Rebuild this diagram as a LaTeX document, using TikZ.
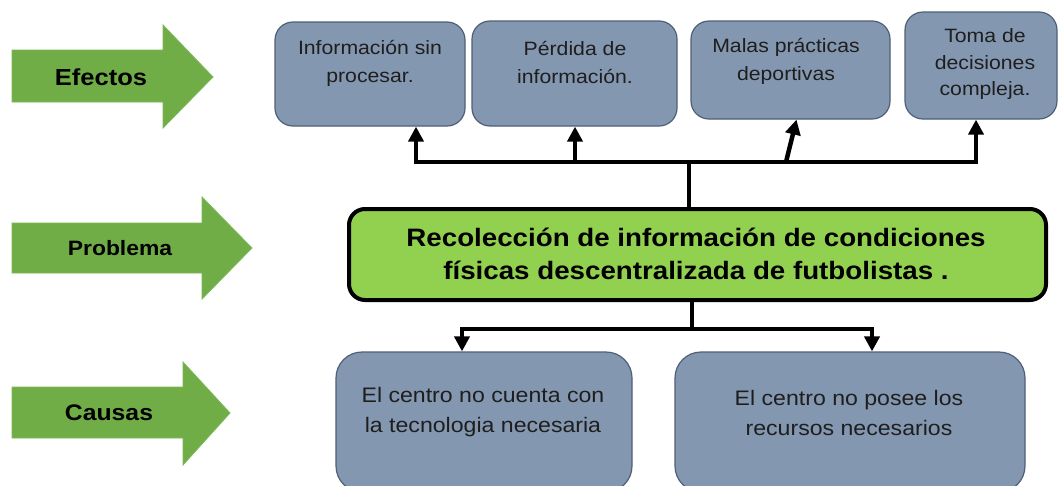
\documentclass[tikz,border=0pt]{standalone}
\usepackage{fontspec}
\setmainfont{Liberation Sans}[FakeStretch=1.1]
\usetikzlibrary{arrows.meta}
\definecolor{boxfill}{HTML}{8497B0}
\definecolor{boxedge}{HTML}{4F5F75}
\definecolor{probfill}{HTML}{92D050}
\definecolor{garrow}{HTML}{70AD47}
\definecolor{garrowedge}{HTML}{7DB857}
\definecolor{textdark}{HTML}{1E1E1E}
\begin{document}
\begin{tikzpicture}[x=1pt,y=-1pt,
  ebox/.style={draw=boxedge, line width=1.2pt, fill=boxfill, rounded corners=18pt, inner sep=0pt},
  cbox/.style={draw=boxedge, line width=1.2pt, fill=boxfill, rounded corners=26pt, inner sep=0pt},
  etext/.style={align=center, text=textdark, inner sep=0pt, font=\fontsize{19.3}{28}\selectfont},
  ctext/.style={align=center, text=textdark, inner sep=0pt, font=\fontsize{21}{30}\selectfont},
  probbox/.style={draw=black, line width=4pt, fill=probfill, rounded corners=16pt, inner sep=0pt},
  probtext/.style={align=center, text=black, inner sep=0pt, font=\fontsize{25.2}{33}\selectfont\bfseries},
  bigarrow/.style={fill=garrow, draw=garrowedge, line width=0.8pt},
  armlabel/.style={text=black, inner sep=0pt, font=\bfseries},
  link/.style={line width=4.5pt, line cap=rect},
  arr/.style={line width=4.5pt, -{Triangle[width=15pt,length=15pt]}}
]
\useasboundingbox (0,0) rectangle (1059,485);
\clip (0,0) rectangle (1059,485);
\fill[white] (0,0) rectangle (1059,485);

% left block arrows
\draw[bigarrow] (12,50) -- (163,50) -- (163,25) -- (213,77) -- (163,128) -- (163,102) -- (12,102) -- cycle;
\draw[bigarrow] (12,223) -- (202,223) -- (202,197) -- (252,248) -- (202,299) -- (202,273) -- (12,273) -- cycle;
\draw[bigarrow] (12,387) -- (183,387) -- (183,362) -- (230,413) -- (183,465) -- (183,438) -- (12,438) -- cycle;
\node[armlabel, font=\fontsize{23.2}{26}\selectfont\bfseries] (lefe) at (101,77) {Efectos};
\node[armlabel, font=\fontsize{20.8}{24}\selectfont\bfseries] (lpro) at (120,248) {Problema};
\node[armlabel, font=\fontsize{22.5}{26}\selectfont\bfseries] (lcau) at (109,413) {Causas};

% effect boxes
\node[ebox, minimum width=190pt, minimum height=104pt] (e1) at (370,74) {};
\node[etext] (t1) at (370,63) {Información sin\\procesar.};
\node[ebox, minimum width=205pt, minimum height=105pt] (e2) at (574.5,73.5) {};
\node[etext] (t2) at (575,62) {Pérdida de\\información.};
\node[ebox, minimum width=199pt, minimum height=98pt] (e3) at (790.5,70) {};
\node[etext] (t3) at (786,61.5) {Malas prácticas\\deportivas};
\node[ebox, minimum width=152pt, minimum height=107pt] (e4) at (981,65.5) {};
\node[etext, font=\fontsize{19.3}{26.5}\selectfont] (t4) at (985,64.5) {Toma de\\decisiones\\compleja.};

% problem box
\node[probbox, minimum width=697pt, minimum height=91pt] (prob) at (697.5,254.5) {};
\node[probtext] (pt) at (696,254) {Recolección de información de condiciones\\físicas descentralizada de futbolistas .};

% cause boxes
\node[cbox, minimum width=296pt, minimum height=140pt] (ca) at (484,422) {};
\node[ctext] (tca) at (483,412.5) {El centro no cuenta con\\la tecnologia necesaria};
\node[cbox, minimum width=350pt, minimum height=140pt] (cb) at (850,422) {};
\node[ctext] (tcb) at (849,413) {El centro no posee los\\recursos necesarios};

% top connectors
\coordinate (jt) at (689,162);
\coordinate (b1) at (416,162);
\coordinate (b2) at (575,162);
\coordinate (b3) at (786,162);
\coordinate (b4) at (976,162);
\draw[link] (b1) -- (b4);
\draw[link] (prob.north -| jt) -- (jt);
\draw[arr] (b1) -- (b1 |- e1.south);
\draw[arr] (b2) -- (b2 |- e2.south);
\draw[arr] (b3) -- ([xshift=6pt]e3.south);
\draw[arr] (b4) -- (b4 |- e4.south);

% bottom connectors
\coordinate (jb) at (692,329);
\coordinate (cl) at (462,329);
\coordinate (cr) at (872,329);
\draw[link] (cl) -- (cr);
\draw[link] (prob.south -| jb) -- (jb);
\draw[arr] (cl) -- (cl |- ca.north);
\draw[arr] (cr) -- (cr |- cb.north);
\end{tikzpicture}
\end{document}
